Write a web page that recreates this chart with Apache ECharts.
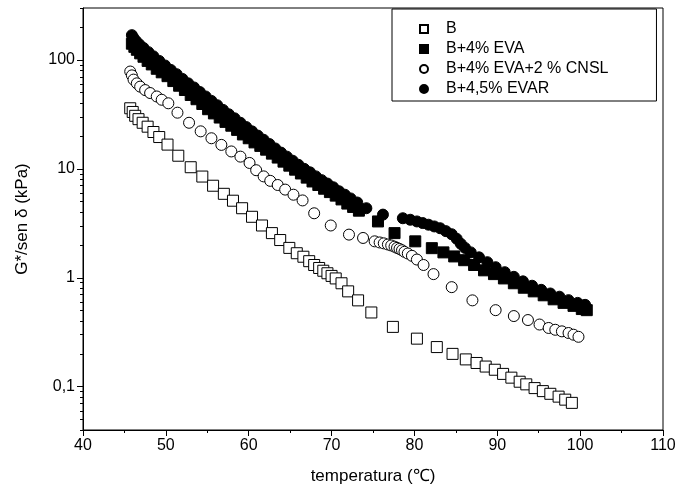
<!DOCTYPE html>
<html>
<head>
<meta charset="utf-8">
<script src="https://cdn.jsdelivr.net/npm/echarts@6/dist/echarts.min.js"></script>
<style>
    html, body { margin: 0; padding: 0; background: #fff; }
    #main { width: 676px; height: 494px; }
</style>
</head>
<body>
<div id="main"></div>
<script>
// B
var tempB = [45.7, 46.0, 46.3, 46.7, 47.2, 47.8, 48.5, 49.2, 50.2, 51.5, 53.0, 54.4, 55.7, 57.0, 58.1, 59.2, 60.4, 61.6, 62.8, 63.8, 64.9, 65.8, 66.6, 67.3, 67.9, 68.5, 69.0, 69.5, 70.0, 70.5, 71.2, 72.0, 73.2, 74.8, 77.4, 80.3, 82.7, 84.6, 86.2, 87.5, 88.6, 89.7, 90.7, 91.7, 92.7, 93.5, 94.5, 95.5, 96.4, 97.4, 98.2, 99.0];
var valB = [36, 33.3, 30.7, 28.6, 26.5, 24.4, 21.8, 19.6, 16.7, 13.2, 10.35, 8.5, 7.0, 5.9, 5.1, 4.35, 3.63, 3.02, 2.57, 2.22, 1.88, 1.68, 1.56, 1.42, 1.31, 1.23, 1.16, 1.10, 1.04, 0.986, 0.89, 0.75, 0.62, 0.48, 0.354, 0.276, 0.231, 0.20, 0.178, 0.165, 0.153, 0.143, 0.131, 0.121, 0.111, 0.105, 0.097, 0.091, 0.086, 0.081, 0.076, 0.071];

// B+4% EVA
var tempEva = [45.9, 46.2, 46.5, 46.9, 47.3, 47.8, 48.3, 48.9, 49.5, 50.2, 50.9, 51.6, 52.3, 53.0, 53.7, 54.4, 55.1, 55.8, 56.5, 57.2, 57.9, 58.6, 59.3, 60.0, 60.7, 61.4, 62.1, 62.8, 63.5, 64.2, 64.9, 65.6, 66.3, 67.0, 67.7, 68.4, 69.1, 69.8, 70.5, 71.2, 71.9, 72.6, 73.3, 75.6, 77.6, 80.1, 82.1, 83.5, 84.8, 86.0, 87.2, 88.4, 89.6, 90.8, 92.0, 93.2, 94.4, 95.6, 96.8, 98.0, 99.2, 100.2, 100.8];
var valEva = [141, 132, 124, 115, 107, 98, 91, 83, 77, 71, 64, 58, 53, 47.7, 43.6, 39.4, 35.3, 32.3, 29.6, 27, 24.9, 22.8, 20.7, 19.1, 17.5, 16.25, 15.0, 13.8, 12.7, 11.65, 10.7, 9.83, 9.07, 8.31, 7.66, 7.11, 6.57, 6.12, 5.68, 5.24, 4.8, 4.47, 4.13, 3.29, 2.57, 2.16, 1.87, 1.71, 1.57, 1.45, 1.31, 1.17, 1.08, 0.986, 0.89, 0.81, 0.75, 0.69, 0.634, 0.588, 0.552, 0.516, 0.504];

// B+4% EVA+2 % CNSL
var tempCnsl = [45.7, 45.9, 46.1, 46.5, 46.9, 47.5, 48.1, 48.9, 49.5, 50.3, 51.4, 52.8, 54.2, 55.5, 56.7, 57.9, 59.0, 60.1, 60.9, 61.8, 62.6, 63.5, 64.4, 65.4, 66.5, 67.9, 69.9, 72.1, 73.8, 75.2, 75.8, 76.3, 76.8, 77.2, 77.6, 77.9, 78.2, 78.5, 78.8, 79.2, 79.7, 80.3, 81.1, 82.3, 84.5, 87.0, 89.8, 92.0, 93.7, 95.1, 96.2, 97.0, 97.8, 98.6, 99.2, 99.8];
var valCnsl = [78.3, 72.2, 66, 61, 56.9, 52.9, 49.7, 46.2, 43.1, 40, 32.8, 26.5, 22.1, 19.1, 16.6, 14.45, 12.95, 11.33, 9.72, 8.53, 7.76, 7.11, 6.45, 5.79, 5.13, 3.91, 3.02, 2.49, 2.32, 2.16, 2.11, 2.07, 2.02, 1.98, 1.93, 1.88, 1.84, 1.79, 1.73, 1.67, 1.59, 1.47, 1.31, 1.08, 0.82, 0.62, 0.504, 0.445, 0.409, 0.372, 0.346, 0.333, 0.322, 0.311, 0.30, 0.287];

// B+4,5% EVAR
var tempEvar = [45.9, 46.1, 46.4, 46.8, 47.3, 47.9, 48.5, 49.2, 49.9, 50.6, 51.3, 52.0, 52.7, 53.4, 54.1, 54.8, 55.5, 56.2, 56.9, 57.6, 58.3, 59.0, 59.7, 60.4, 61.1, 61.8, 62.5, 63.2, 63.9, 64.6, 65.3, 66.0, 66.7, 67.4, 68.1, 68.8, 69.5, 70.2, 70.9, 71.6, 72.3, 73.1, 74.2, 76.2, 78.6, 79.5, 80.3, 81.0, 81.7, 82.4, 83.1, 83.8, 84.5, 85.1, 85.6, 86.1, 86.8, 87.8, 88.8, 89.8, 90.9, 92.0, 93.1, 94.2, 95.3, 96.4, 97.5, 98.6, 99.7, 100.6];
var valEvar = [169, 159, 149, 139, 129, 118, 108, 98, 89, 81, 74, 67, 61, 55.9, 50.8, 46.2, 42.1, 38.4, 34.8, 31.7, 29.1, 26.5, 24.2, 22.1, 20.2, 18.5, 16.9, 15.4, 14.1, 12.95, 11.88, 10.9, 10.0, 9.29, 8.53, 7.88, 7.33, 6.78, 6.23, 5.79, 5.35, 4.91, 4.35, 3.8, 3.52, 3.41, 3.29, 3.18, 3.07, 2.96, 2.85, 2.68, 2.51, 2.28, 2.05, 1.88, 1.71, 1.54, 1.39, 1.25, 1.125, 1.02, 0.927, 0.845, 0.775, 0.717, 0.67, 0.623, 0.588, 0.564];

var seriesNames = ["B", "B+4% EVA", "B+4% EVA+2 % CNSL", "B+4,5% EVAR"];
var yMajor = [0.1, 1, 10, 100];
var yMinor = [0.04, 0.05, 0.06, 0.07, 0.08, 0.09, 0.2, 0.3, 0.4, 0.5, 0.6, 0.7, 0.8, 0.9, 2, 3, 4, 5, 6, 7, 8, 9, 20, 30, 40, 50, 60, 70, 80, 90, 200, 300];

var FONT = "Liberation Sans, Arial, sans-serif";

function toPairs(xs, ys) {
    var arr = [];
    for (var i = 0; i < xs.length; i++) {
        arr.push([xs[i], ys[i]]);
    }
    return arr;
}

function makeSeries(name, xs, ys, symbol, filled) {
    return {
        name: name,
        type: "scatter",
        yAxisIndex: 0,
        symbol: symbol,
        symbolSize: 11,
        itemStyle: {
            color: filled ? "#000" : "#fff",
            borderColor: "#000",
            borderWidth: 1,
            opacity: 1
        },
        emphasis: { disabled: true },
        data: toPairs(xs, ys)
    };
}

var myChart = echarts.init(document.getElementById("main"));
var option = {
    animation: false,
    backgroundColor: "#fff",
    grid: {
        left: 83,
        right: 13,
        top: 8,
        bottom: 64,
        show: true,
        borderColor: "#000",
        borderWidth: 1,
        outerBoundsMode: "none"
    },
    legend: {
        orient: "vertical",
        left: 392,
        top: 9,
        itemWidth: 8,
        itemHeight: 8,
        itemGap: 4,
        padding: [12, 48, 4, 27],
        borderColor: "#000",
        borderWidth: 1,
        data: [
            { name: seriesNames[0], icon: "rect" },
            { name: seriesNames[1], icon: "rect" },
            { name: seriesNames[2], icon: "circle" },
            { name: seriesNames[3], icon: "circle" }
        ],
        textStyle: { fontFamily: FONT, fontSize: 16, lineHeight: 16, color: "#000", padding: [0, 0, 0, 13] }
    },
    xAxis: {
        type: "value",
        min: 40,
        max: 110,
        interval: 10,
        name: "temperatura (\u2103)",
        nameLocation: "middle",
        nameGap: 38,
        nameTextStyle: { fontFamily: FONT, fontSize: 17, color: "#000" },
        axisLine: { show: true, lineStyle: { color: "#000", width: 1 } },
        axisTick: { show: true, length: 6, lineStyle: { color: "#000" } },
        minorTick: { show: true, splitNumber: 2, length: 3, lineStyle: { color: "#000" } },
        axisLabel: { fontFamily: FONT, fontSize: 16, color: "#000", margin: 8 },
        splitLine: { show: false }
    },
    yAxis: [{
        type: "log",
        logBase: 10,
        min: 0.04,
        max: 300,
        position: "left",
        name: "G*/sen \u03b4 (kPa)",
        nameLocation: "middle",
        nameGap: 52,
        nameRotate: 90,
        nameTextStyle: { fontFamily: FONT, fontSize: 17, color: "#000" },
        axisLine: { show: true, lineStyle: { color: "#000", width: 1 } },
        axisTick: { show: true, length: 6, customValues: yMajor, lineStyle: { color: "#000" } },
        axisLabel: {
            fontFamily: FONT, fontSize: 16, color: "#000", margin: 8,
            customValues: yMajor,
            formatter: function (v) {
                return String(v).replace(".", ",");
            }
        },
        splitLine: { show: false }
    }, {
        type: "log",
        logBase: 10,
        min: 0.04,
        max: 300,
        position: "left",
        axisLine: { show: false },
        axisTick: { show: true, length: 3, customValues: yMinor, lineStyle: { color: "#000" } },
        axisLabel: { show: false },
        splitLine: { show: false }
    }],
    series: [
        makeSeries(seriesNames[0], tempB, valB, "rect", false),
        makeSeries(seriesNames[1], tempEva, valEva, "rect", true),
        makeSeries(seriesNames[2], tempCnsl, valCnsl, "circle", false),
        makeSeries(seriesNames[3], tempEvar, valEvar, "circle", true)
    ]
};
myChart.setOption(option);
</script>
</body>
</html>
